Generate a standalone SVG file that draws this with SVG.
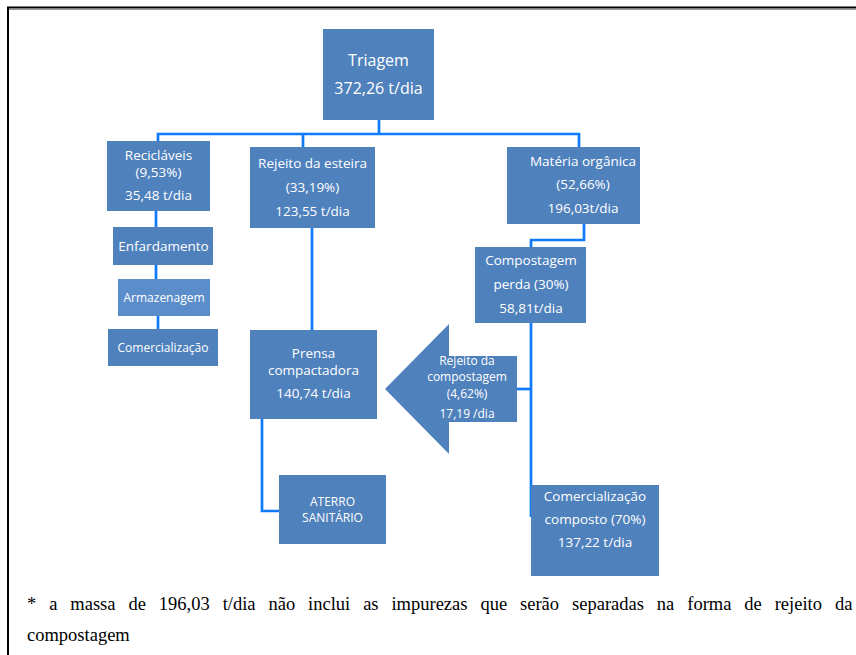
<svg xmlns="http://www.w3.org/2000/svg" width="856" height="655" viewBox="0 0 856 655">
<style>
.box{fill:#4F81BD;}
.light{fill:#5B8DCA;}
.t{font-family:"Open Sans","DejaVu Sans",sans-serif;fill:#ffffff;text-anchor:middle;font-size:13.5px;}
.s{font-size:12px;}
.big{font-size:16px;}
.c{fill:none;stroke:#0F7BFA;stroke-width:2.7;}
.foot{font-family:"Liberation Serif","Times New Roman",serif;font-size:18.5px;fill:#000;}
</style>
<rect x="0" y="0" width="856" height="655" fill="#ffffff"/>
<g id="frame">
<line x1="7" y1="7.5" x2="856" y2="7.5" stroke="#000" stroke-width="2"/>
<line x1="9" y1="9.5" x2="856" y2="9.5" stroke="#999" stroke-width="1"/>
<line x1="8" y1="7" x2="8" y2="655" stroke="#000" stroke-width="2"/>
</g>
<g id="connectors">
<polyline class="c" points="379,120 379,134"/>
<polyline class="c" points="158,141 158,134 579,134 579,147"/>
<polyline class="c" points="303,134 303,147"/>
<polyline class="c" points="156,211 156,227"/>
<polyline class="c" points="156,265 156,279"/>
<polyline class="c" points="158,316 158,329"/>
<polyline class="c" points="312,228 312,330"/>
<polyline class="c" points="584,224 584,240 531,240 531,247"/>
<polyline class="c" points="531,323 531,517"/>
<polyline class="c" points="516,389 531,389"/>
<polyline class="c" points="262,419 262,511 279,511"/>
</g>
<g id="triagem">
<rect class="box" x="323" y="29" width="111" height="91"/>
<text class="t big" x="378.5" y="66">Triagem</text>
<text class="t big" x="378.5" y="94">372,26 t/dia</text>
</g>
<g id="reciclaveis">
<rect class="box" x="107" y="141" width="103" height="70"/>
<text class="t" x="158.5" y="160">Recicláveis</text>
<text class="t" x="158.5" y="177">(9,53%)</text>
<text class="t" x="158.5" y="200">35,48 t/dia</text>
</g>
<g id="enfardamento">
<rect class="box" x="113" y="227" width="100" height="38"/>
<text class="t" x="163.5" y="250.5">Enfardamento</text>
</g>
<g id="armazenagem">
<rect class="light" x="118" y="279" width="92" height="37"/>
<text class="t s" x="164" y="302">Armazenagem</text>
</g>
<g id="comercializacao">
<rect class="box" x="108" y="329" width="110" height="37"/>
<text class="t s" x="163" y="352">Comercialização</text>
</g>
<g id="rejeito-esteira">
<rect class="box" x="250" y="147" width="125" height="81"/>
<text class="t" x="312.5" y="168">Rejeito da esteira</text>
<text class="t" x="312.5" y="192">(33,19%)</text>
<text class="t" x="312.5" y="216">123,55 t/dia</text>
</g>
<g id="materia-organica">
<rect class="box" x="507" y="147" width="133" height="77"/>
<text class="t" x="583" y="166">Matéria orgânica</text>
<text class="t" x="583" y="189">(52,66%)</text>
<text class="t" x="583" y="213">196,03t/dia</text>
</g>
<g id="compostagem">
<rect class="box" x="475" y="247" width="111" height="76"/>
<text class="t" x="531" y="265">Compostagem</text>
<text class="t" x="531" y="289">perda (30%)</text>
<text class="t" x="531" y="313">58,81t/dia</text>
</g>
<g id="prensa">
<rect class="box" x="250" y="330" width="127" height="89"/>
<text class="t" x="313.5" y="358">Prensa</text>
<text class="t" x="313.5" y="375">compactadora</text>
<text class="t" x="313.5" y="398">140,74 t/dia</text>
</g>
<g id="rejeito-compostagem">
<polygon class="box" points="385,389 449,324 449,356 517,356 517,422 449,422 449,454"/>
<text class="t s" x="467" y="365">Rejeito da</text>
<text class="t s" x="467" y="381">compostagem</text>
<text class="t s" x="467" y="398">(4,62%)</text>
<text class="t s" x="467" y="418">17,19 /dia</text>
</g>
<g id="aterro">
<rect class="box" x="279" y="475" width="107" height="69"/>
<text class="t s" x="332.5" y="506">ATERRO</text>
<text class="t s" x="332.5" y="522">SANITÁRIO</text>
</g>
<g id="composto">
<rect class="box" x="531" y="485" width="128" height="91"/>
<text class="t" x="595" y="501">Comercialização</text>
<text class="t" x="595" y="524">composto (70%)</text>
<text class="t" x="595" y="547">137,22 t/dia</text>
</g>
<g id="footnote">
<text class="foot" x="27" y="610" word-spacing="8.3">* a massa de 196,03 t/dia não inclui as impurezas que serão separadas na forma de rejeito da</text>
<text class="foot" x="27" y="641">compostagem</text>
</g>
</svg>
